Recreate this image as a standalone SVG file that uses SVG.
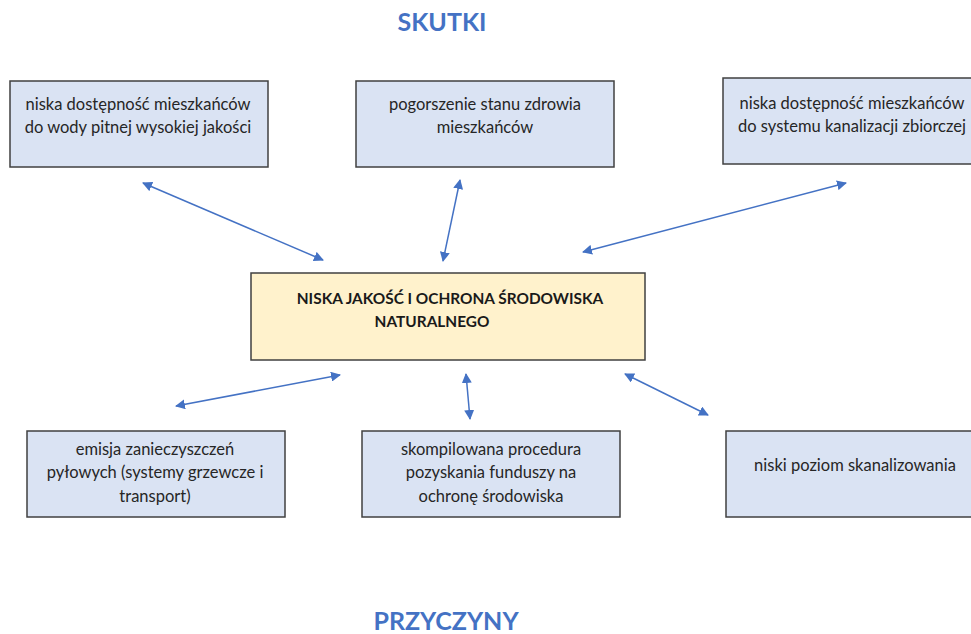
<svg xmlns="http://www.w3.org/2000/svg" width="971" height="634" viewBox="0 0 971 634">
<defs>
<marker id="ah" viewBox="0 0 10 10" refX="9" refY="5" markerWidth="10" markerHeight="10" markerUnits="userSpaceOnUse" orient="auto-start-reverse">
<path d="M0,0 L10,5 L0,10 z" fill="#4472C4"/>
</marker>
<style>
.box{fill:#DAE3F3;stroke:#404040;stroke-width:1.5}
.core{fill:#FFF2CC;stroke:#404040;stroke-width:1.5}
.t{font-family:Lato,"Liberation Sans",sans-serif;font-size:16.5px;fill:#262626;text-anchor:middle}
.tb{font-family:Lato,"Liberation Sans",sans-serif;font-size:15.4px;font-weight:bold;fill:#1a1a1a;text-anchor:middle}
.title{font-family:Lato,"Liberation Sans",sans-serif;font-size:25px;font-weight:bold;fill:#4472C4;text-anchor:middle}
.c{stroke:#4472C4;stroke-width:1.5;fill:none;marker-start:url(#ah);marker-end:url(#ah)}
</style>
</defs>
<rect width="971" height="634" fill="#ffffff"/>
<text class="title" x="442" y="31">SKUTKI</text>
<text class="title" x="446" y="630">PRZYCZYNY</text>
<g id="n1"><rect class="box" x="10" y="81" width="258" height="86"/>
<text class="t" x="138" y="110">niska dostępność mieszkańców</text>
<text class="t" x="138" y="133">do wody pitnej wysokiej jakości</text></g>
<g id="n2"><rect class="box" x="356" y="81" width="258" height="86"/>
<text class="t" x="485" y="110">pogorszenie stanu zdrowia</text>
<text class="t" x="485" y="133">mieszkańców</text></g>
<g id="n3"><rect class="box" x="723" y="78" width="258" height="86"/>
<text class="t" x="852" y="109">niska dostępność mieszkańców</text>
<text class="t" x="852" y="132">do systemu kanalizacji zbiorczej</text></g>
<g id="core"><rect class="core" x="251" y="273" width="394" height="87"/>
<text class="tb" x="450" y="304">NISKA JAKOŚĆ I OCHRONA ŚRODOWISKA</text>
<text class="tb" x="432" y="327">NATURALNEGO</text></g>
<g id="n4"><rect class="box" x="27" y="431" width="258" height="86"/>
<text class="t" x="155" y="455">emisja zanieczyszczeń</text>
<text class="t" x="155" y="478">pyłowych (systemy grzewcze i</text>
<text class="t" x="155" y="502">transport)</text></g>
<g id="n5"><rect class="box" x="362" y="431" width="258" height="86"/>
<text class="t" x="491" y="455">skompilowana procedura</text>
<text class="t" x="491" y="478">pozyskania funduszy na</text>
<text class="t" x="491" y="502">ochronę środowiska</text></g>
<g id="n6"><rect class="box" x="726" y="431" width="258" height="86"/>
<text class="t" x="855" y="471">niski poziom skanalizowania</text></g>
<g id="connectors">
<line class="c" x1="143" y1="183" x2="323" y2="260"/>
<line class="c" x1="460" y1="180" x2="443" y2="261"/>
<line class="c" x1="846" y1="183" x2="583" y2="252"/>
<line class="c" x1="176" y1="406" x2="340" y2="375"/>
<line class="c" x1="466" y1="374" x2="470" y2="419"/>
<line class="c" x1="625" y1="374" x2="708" y2="415"/>
</g>
</svg>
